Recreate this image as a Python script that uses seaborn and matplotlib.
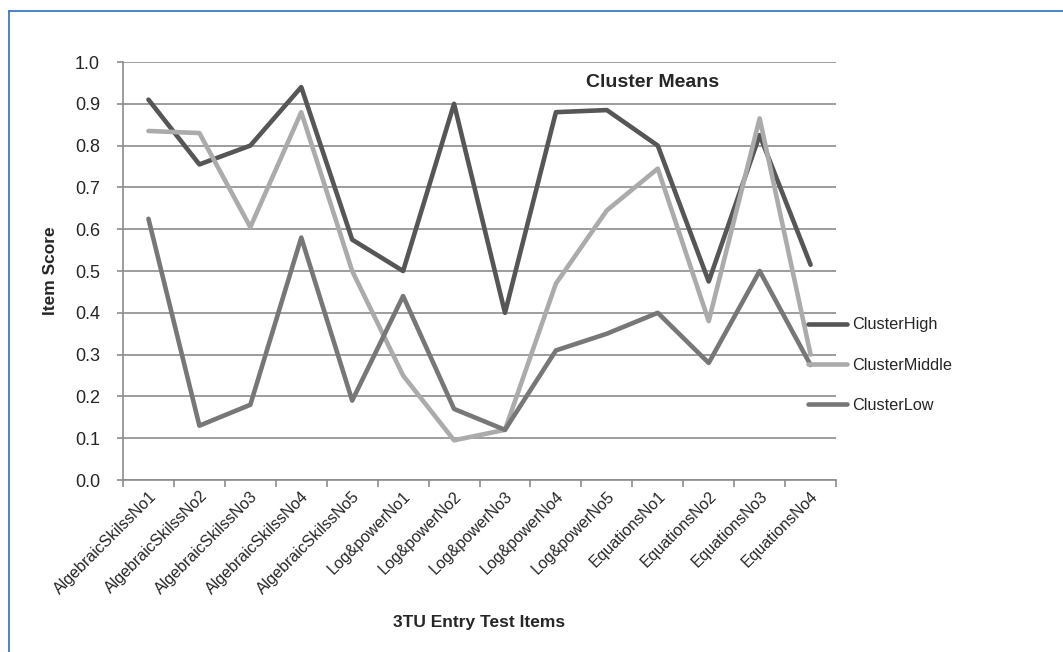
import numpy as np
import pandas as pd
import matplotlib
matplotlib.use('Agg')
import matplotlib.pyplot as plt
import seaborn as sns
from matplotlib.lines import Line2D

# Items on the x axis
items = ['AlgebraicSkilssNo1', 'AlgebraicSkilssNo2', 'AlgebraicSkilssNo3',
         'AlgebraicSkilssNo4', 'AlgebraicSkilssNo5', 'Log&powerNo1',
         'Log&powerNo2', 'Log&powerNo3', 'Log&powerNo4', 'Log&powerNo5',
         'EquationsNo1', 'EquationsNo2', 'EquationsNo3', 'EquationsNo4']

# Cluster mean scores
cluster_high = [0.91, 0.755, 0.80, 0.94, 0.575, 0.50, 0.90, 0.40, 0.88, 0.885, 0.80, 0.475, 0.825, 0.515]
cluster_middle = [0.835, 0.83, 0.605, 0.88, 0.50, 0.25, 0.095, 0.12, 0.47, 0.645, 0.745, 0.38, 0.865, 0.30]
cluster_low = [0.625, 0.13, 0.18, 0.58, 0.19, 0.44, 0.17, 0.12, 0.31, 0.35, 0.40, 0.28, 0.50, 0.275]

yticks = [0.0, 0.1, 0.2, 0.3, 0.4, 0.5, 0.6, 0.7, 0.8, 0.9, 1.0]

df = pd.DataFrame({'Item': items * 3,
                   'Score': cluster_high + cluster_middle + cluster_low,
                   'Cluster': ['ClusterHigh'] * 14 + ['ClusterMiddle'] * 14 + ['ClusterLow'] * 14})
df['pos'] = np.tile(np.arange(len(items)), 3)

sns.set_style('white')
plt.rcParams['font.family'] = ['Liberation Sans', 'DejaVu Sans']

fig = plt.figure(figsize=(10.63, 6.52), dpi=100)
ax = fig.add_axes([0.1157, 0.2638, 0.6708, 0.6411])

palette = {'ClusterHigh': '#565656', 'ClusterMiddle': '#ababab', 'ClusterLow': '#777777'}
sns.lineplot(data=df, x='pos', y='Score', hue='Cluster', palette=palette,
             linewidth=3.3, ax=ax, legend=False, sort=False)

ax.set_xlim(-0.5, len(items) - 0.5)
ax.set_ylim(0, 1.0)
ax.set_yticks(yticks)
ax.set_yticklabels([f'{v:.1f}' for v in yticks], fontsize=13)
for v in yticks:
    ax.axhline(v, color='#8c8c8c', lw=1.2, zorder=0)

# ticks between categories, labels at centres
ax.set_xticks(np.arange(-0.5, len(items)), minor=False)
ax.set_xticklabels([])
ax.set_xticks(np.arange(len(items)), minor=True)
ax.set_xticklabels(items, minor=True, rotation=45, ha='right',
                   rotation_mode='anchor', fontsize=11.5)
ax.tick_params(axis='x', which='major', length=5, width=1.2, color='#8c8c8c', direction='out', bottom=True)
ax.tick_params(axis='x', which='minor', length=0, pad=6)
ax.tick_params(axis='y', length=4.5, width=1.2, color='#8c8c8c', direction='out', left=True, pad=12)

for s in ['top', 'right']:
    ax.spines[s].set_visible(False)
for s in ['left', 'bottom']:
    ax.spines[s].set_color('#8c8c8c')
    ax.spines[s].set_linewidth(1.2)

ax.set_ylabel('Item Score', fontsize=12.5, fontweight='bold', labelpad=12)
ax.set_xlabel('3TU Entry Test Items', fontsize=12.5, fontweight='bold', labelpad=13)
ax.text(0.743, 0.95, 'Cluster Means', transform=ax.transAxes, ha='center',
        va='center', fontsize=14, fontweight='bold')

handles = [Line2D([0], [0], color=palette[k], lw=3.3) for k in palette]
fig.legend(handles, list(palette), loc='center left', bbox_to_anchor=(0.746, 0.44),
           frameon=False, fontsize=11.7, handlelength=2.45, handletextpad=0.3,
           labelspacing=1.55)

# blue frame on left and top
fig.add_artist(Line2D([0.0085, 0.0085], [0, 0.983], color='#2a6ebb', lw=1.2, transform=fig.transFigure))
fig.add_artist(Line2D([0.0085, 1.0], [0.983, 0.983], color='#2a6ebb', lw=1.2, transform=fig.transFigure))

fig.savefig('out.png', dpi=100, facecolor='white')
